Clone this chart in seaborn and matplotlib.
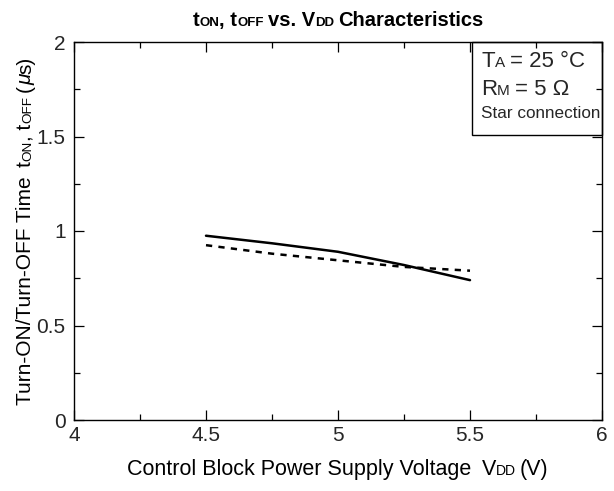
import numpy as np
import pandas as pd
import matplotlib
matplotlib.use("Agg")
import matplotlib.pyplot as plt
import seaborn as sns
from matplotlib.ticker import MultipleLocator
from matplotlib.transforms import IdentityTransform
from matplotlib.patches import Rectangle

# ---- data ----
vdd = [4.5, 4.75, 5.0, 5.25, 5.5]
t_on = [0.975, 0.935, 0.89, 0.82, 0.74]
t_off = [0.925, 0.88, 0.845, 0.81, 0.79]
x_ticks = [4, 4.5, 5, 5.5, 6]
x_tick_labels = ["4", "4.5", "5", "5.5", "6"]
y_ticks = [0, 0.5, 1, 1.5, 2]
y_tick_labels = ["0", "0.5", "1", "1.5", "2"]

sns.set_theme(style="ticks")
plt.rcParams["font.family"] = ["Liberation Sans", "DejaVu Sans"]

W, H = 614, 491
fig = plt.figure(figsize=(W / 100, H / 100), dpi=100)
L, R, T, B = 74, 602, 42, 420
ax = fig.add_axes([L / W, 1 - B / H, (R - L) / W, (B - T) / H])

df = pd.DataFrame({
    "V": vdd + vdd,
    "t": t_on + t_off,
    "s": ["on"] * len(vdd) + ["off"] * len(vdd),
})
sns.lineplot(data=df, x="V", y="t", style="s", color="black",
             dashes={"on": "", "off": (2.5, 2.5)}, lw=1.8,
             legend=False, ax=ax, sort=False)

ax.set_xlim(4, 6)
ax.set_ylim(0, 2)
ax.set_xticks(x_ticks)
ax.set_xticklabels(x_tick_labels)
ax.set_yticks(y_ticks)
ax.set_yticklabels(y_tick_labels)
ax.xaxis.set_minor_locator(MultipleLocator(0.25))
ax.yaxis.set_minor_locator(MultipleLocator(0.25))
ax.tick_params(which="both", direction="in", top=True, right=True,
               color="black", width=0.9)
ax.tick_params(which="major", length=7)
ax.tick_params(which="minor", length=4.5)
ax.tick_params(axis="y", which="major", labelsize=15, pad=6)
ax.tick_params(axis="x", which="major", labelsize=15, pad=4)
ax.set_xlabel("")
ax.set_ylabel("")
for sp in ax.spines.values():
    sp.set_visible(True)
    sp.set_color("black")
    sp.set_linewidth(1.0)

# legend-like box
bx0 = (472 - L) / (R - L)
by0 = (B - 135) / (B - T)
ax.add_patch(Rectangle((bx0, by0), 1 - bx0, 1 - by0, transform=ax.transAxes,
                       fill=False, edgecolor="black", lw=1.0, zorder=5,
                       clip_on=False))

renderer = fig.canvas.get_renderer()


def rich(pieces, x, y, rot=0, ha="center"):
    """pieces: list of (text, props) or numeric gap in px. x,y in top-left px."""
    widths = []
    for p in pieces:
        if isinstance(p, (int, float)):
            widths.append(p)
        else:
            s, kw = p
            t = fig.text(0, 0, s, **kw)
            widths.append(t.get_window_extent(renderer).width)
            t.remove()
    total = sum(widths)
    if rot == 0:
        pos = x - total / 2 if ha == "center" else x
        for p, w in zip(pieces, widths):
            if not isinstance(p, (int, float)):
                s, kw = p
                fig.text(pos, H - y, s, ha="left", va="baseline",
                         transform=IdentityTransform(), **kw)
            pos += w
    else:
        pos = (H - y) - total / 2 if ha == "center" else H - y
        for p, w in zip(pieces, widths):
            if not isinstance(p, (int, float)):
                s, kw = p
                fig.text(x, pos, s, ha="left", va="baseline", rotation=90,
                         rotation_mode="anchor",
                         transform=IdentityTransform(), **kw)
            pos += w


BIG = 15.5
SM = 10
big = dict(fontsize=BIG, color="black")
sm = dict(fontsize=SM, color="black")
YB = 15
ybig = dict(fontsize=YB, color="black")
ysm = dict(fontsize=9.7, color="black")

# title
tb = dict(fontsize=14.5, fontweight="bold", color="black")
ts = dict(fontsize=9.5, fontweight="bold", color="black")
rich([("t", tb), ("ON", ts), (", t", tb), ("OFF", ts), 4, ("vs. V", tb),
      ("DD", ts), 4, ("Characteristics", tb)], (L + R) / 2, 26)

# x label
rich([("Control Block Power Supply Voltage", big), 10, ("V", big), ("DD", sm),
      4, ("(V)", big)], (L + R) / 2, 475)

# y label
rich([("Turn-ON/Turn-OFF Time", ybig), 10, ("t", ybig), ("ON", ysm),
      (", t", ybig), ("OFF", ysm), 4, ("(", ybig),
      ("\u03bc", dict(ybig, style="italic")), ("s)", ybig)],
     31, (T + B) / 2, rot=90)

# box text
rich([("T", dict(fontsize=16)), ("A", dict(fontsize=11)), 5,
      ("= 25 \u00b0C", dict(fontsize=16))], 481, 67, ha="left")
rich([("R", dict(fontsize=16)), ("M", dict(fontsize=11)), 5,
      ("= 5 \u03a9", dict(fontsize=16))], 481, 95, ha="left")
rich([("Star connection", dict(fontsize=12.3))], 481, 118, ha="left")

fig.savefig("out.png", dpi=100)
